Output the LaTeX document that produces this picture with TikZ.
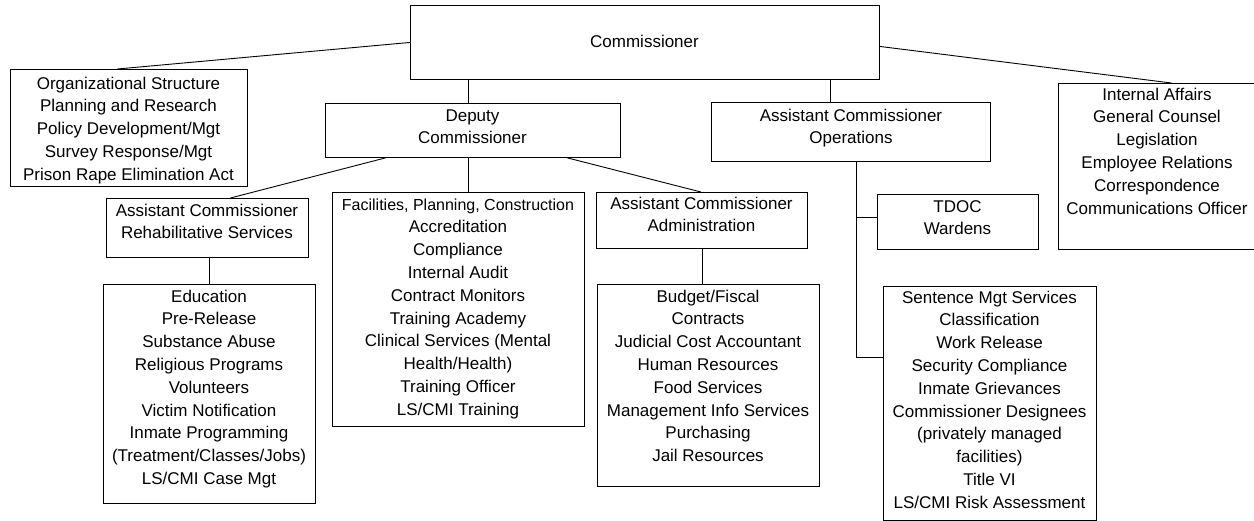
\documentclass[tikz,border=0pt]{standalone}
\usepackage{fontspec}
\setmainfont{Liberation Sans}
\begin{document}
\begin{tikzpicture}[x=1pt,y=-1pt,
  box/.style={draw=black, line width=0.9pt, inner sep=0pt, anchor=north west},
  txt/.style={inner sep=0pt, anchor=north, align=center, text=black,
    font=\fontsize{17}{22.8}\selectfont},
  link/.style={draw=black, line width=0.9pt}]
\useasboundingbox (0,0) rectangle (1254,521);
% boxes
\node[box, minimum width=469pt, minimum height=74pt] (comm) at (410,5) {};
\node[box, minimum width=237pt, minimum height=117pt] (org) at (10,69) {};
\node[box, minimum width=200pt, minimum height=166pt] (ia) at (1058,83) {};
\node[box, minimum width=295pt, minimum height=54pt] (dep) at (325,103) {};
\node[box, minimum width=279pt, minimum height=59pt] (ops) at (711,102) {};
\node[box, minimum width=202pt, minimum height=59pt] (rehab) at (106,198) {};
\node[box, minimum width=252pt, minimum height=234pt] (fac) at (332,192) {};
\node[box, minimum width=211pt, minimum height=56pt] (adm) at (596,192) {};
\node[box, minimum width=161pt, minimum height=55pt] (tdoc) at (877,194) {};
\node[box, minimum width=212pt, minimum height=219pt] (rsub) at (103,284) {};
\node[box, minimum width=222pt, minimum height=202pt] (asub) at (597,284) {};
\node[box, minimum width=213pt, minimum height=234pt] (sent) at (883,286) {};
% texts
\node[txt] (comm-t) at (644.5,31) {\strut Commissioner};
\node[txt] (org-t) at (128.5,73) {\strut Organizational Structure\\Planning and Research\\Policy Development/Mgt\\Survey Response/Mgt\\Prison Rape Elimination Act};
\node[txt] (ia-t) at (1157,84) {\strut Internal Affairs\\General Counsel\\Legislation\\Employee Relations\\Correspondence\\Communications Officer};
\node[txt] (dep-t) at (472.5,105) {\strut Deputy\\Commissioner};
\node[txt] (ops-t) at (851,105) {\strut Assistant Commissioner\\Operations};
\node[txt] (rehab-t) at (207,200) {\strut Assistant Commissioner\\Rehabilitative Services};
\node[txt] (fac-t) at (458,194) {\strut{\fontsize{16}{22.8}\selectfont Facilities, Planning, Construction}\\Accreditation\\Compliance\\Internal Audit\\Contract Monitors\\Training Academy\\Clinical Services (Mental\\Health/Health)\\Training Officer\\LS/CMI Training};
\node[txt] (adm-t) at (701.5,193) {\strut Assistant Commissioner\\Administration};
\node[txt] (tdoc-t) at (957.5,196) {\strut TDOC\\Wardens};
\node[txt] (rsub-t) at (209,286) {\strut Education\\Pre-Release\\Substance Abuse\\Religious Programs\\Volunteers\\Victim Notification\\Inmate Programming\\(Treatment/Classes/Jobs)\\LS/CMI Case Mgt};
\node[txt] (asub-t) at (708,286) {\strut Budget/Fiscal\\Contracts\\Judicial Cost Accountant\\Human Resources\\Food Services\\Management Info Services\\Purchasing\\Jail Resources};
\node[txt] (sent-t) at (989.5,287) {\strut Sentence Mgt Services\\Classification\\Work Release\\Security Compliance\\Inmate Grievances\\Commissioner Designees\\(privately managed\\facilities)\\Title VI\\LS/CMI Risk Assessment};
% connectors
\draw[link] (comm.west) -- ([xshift=-11.5pt]org.north);
\draw[link] ([yshift=-4pt]comm.east) -- ([xshift=13pt]ia.north);
\draw[link] ([xshift=-4.5pt]dep.north) -- ([xshift=-4.5pt]dep.north |- comm.south);
\draw[link] ([xshift=-20.5pt]ops.north) -- ([xshift=-20.5pt]ops.north |- comm.south);
\draw[link] ([xshift=-87.5pt]dep.south) -- ([xshift=23pt]rehab.north);
\draw[link] ([xshift=10pt]fac.north) -- ([xshift=10pt]fac.north |- dep.south);
\draw[link] ([xshift=94.5pt]dep.south) -- ([xshift=-1pt]adm.north);
\draw[link] (rsub.north) -- (rsub.north |- rehab.south);
\draw[link] ([xshift=-6pt]asub.north) -- ([xshift=-6pt]asub.north |- adm.south);
\draw[link] ([xshift=5.5pt]ops.south) |- ([yshift=46pt]sent.west);
\draw[link] ([yshift=4.5pt]tdoc.west) -| ([xshift=5.5pt]ops.south);
\end{tikzpicture}
\end{document}
